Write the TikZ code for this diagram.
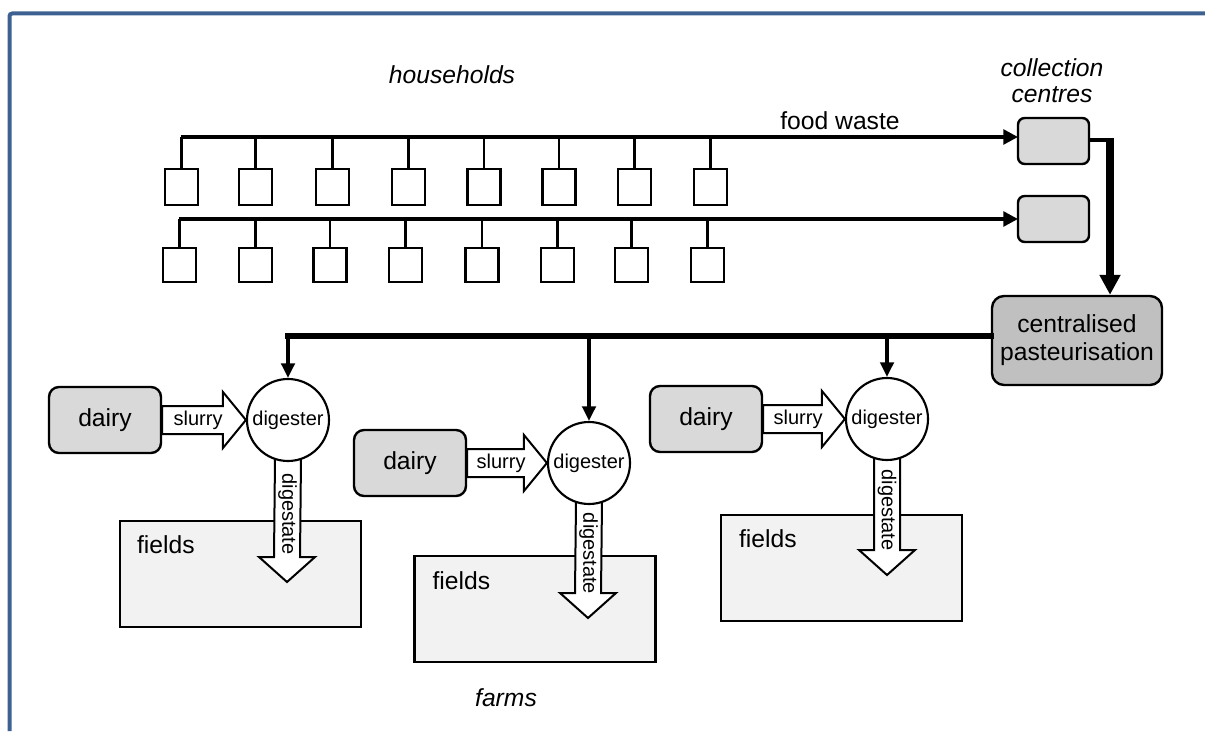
\documentclass[tikz,border=0pt]{standalone}
\usepackage{fontspec}
\setmainfont{Liberation Sans}
\usetikzlibrary{arrows.meta,calc}
\pgfdeclarelayer{under}
\pgfsetlayers{under,main}
\definecolor{frameblue}{HTML}{3D6190}
\definecolor{boxgray}{HTML}{D9D9D9}
\definecolor{pastgray}{HTML}{C0C0C0}
\definecolor{fieldgray}{HTML}{F2F2F2}
\newcommand\slurryarrow[2]{%
  \draw[blk] ($(#1.east)+(0,-14)$) -- ($(#2.west)+(-23,-14)$) -- ($(#2.west)+(-23,-28)$) -- (#2.west)
     -- ($(#2.west)+(-23,28)$) -- ($(#2.west)+(-23,14)$) -- ($(#1.east)+(0,14)$) -- cycle;
  \node[smalltxt] at ($(#1.east)!0.5!(#2.west)+(-6,0)$) {slurry};}
\newcommand\digestatearrow[2]{%
  \draw[blk] ($(#1.south)+(-13,-4)$) -- ($(#2)+(-13,-25)$) -- ($(#2)+(-28,-25)$) -- (#2)
     -- ($(#2)+(28,-25)$) -- ($(#2)+(13,-25)$) -- ($(#1.south)+(13,-4)$) -- cycle;
  \node[smalltxt,rotate=-90] at ($(#1.south)!0.5!(#2)+(0,-8)$) {digestate};}
\begin{document}
\begin{tikzpicture}[x=0.75pt,y=-0.75pt,
  bigtxt/.style={font=\fontsize{18.5}{21}\selectfont},
  smalltxt/.style={font=\fontsize{15}{17}\selectfont,inner sep=0pt},
  house/.style={draw,line width=2pt,minimum width=33*0.75pt,minimum height=#1*0.75pt,inner sep=0pt,outer sep=0pt},
  bus/.style={line width=2.6pt,-{Triangle[length=11pt,width=11pt]}},
  hdrop/.style={line width=2pt},
  ccbox/.style={draw,fill=boxgray,line width=1.8pt,rounded corners=5pt,minimum width=71*0.75pt,minimum height=46*0.75pt,outer sep=0pt},
  link/.style={line width=2.4pt},
  trunkline/.style={line width=6pt,-{Triangle[length=15pt,width=15pt]}},
  distline/.style={line width=4.5pt,line cap=rect},
  droparrow/.style={line width=3.2pt,-{Triangle[length=11pt,width=10pt]}},
  pastbox/.style={draw,fill=pastgray,line width=1.8pt,rounded corners=9pt,minimum width=170*0.75pt,minimum height=89*0.75pt,align=center,font=\fontsize{18.5}{21}\selectfont},
  dairybox/.style={draw,fill=boxgray,line width=1.8pt,rounded corners=7.5pt,minimum width=112*0.75pt,minimum height=66*0.75pt,bigtxt},
  digbox/.style={draw,fill=white,circle,line width=1.6pt,minimum size=82*0.75pt,inner sep=0pt,smalltxt},
  fieldbox/.style={draw,fill=fieldgray,line width=1.8pt,minimum width=241*0.75pt,minimum height=106*0.75pt,inner sep=0pt},
  blk/.style={draw,fill=white,line width=1.5pt,line join=miter},
  itlabel/.style={font=\fontsize{18.5}{19.5}\selectfont\itshape,align=center}
]
\useasboundingbox (0,0) rectangle (1205,731);
% frame
\draw[frameblue,line width=3pt,rounded corners=2pt] (9.5,731) -- (9.5,13.5) -- (1205,13.5);

% labels
\node[itlabel] (lblhouse) at (452,75) {households};
\node[itlabel] (lblcc) at (1052,81) {collection\\centres};
\node[bigtxt] (lblfw) at (840,121) {food waste};
\node[itlabel] (lblfarms) at (506,698) {farms};

% households
\foreach \x [count=\i] in {181.5,255.5,332.5,408.5,484,559,634.5,710.5}
  \node[house=36] (hA\i) at (\x,187) {};
\foreach \x [count=\i] in {179.5,255.5,330,405.5,482,557.5,631.5,707.5}
  \node[house=34] (hB\i) at (\x,265) {};

% collection centres
\node[ccbox] (cc1) at (1053.5,141) {};
\node[ccbox] (cc2) at (1053.5,219) {};

% buses
\coordinate (busA) at ($(hA1.north |- 0,137)+(-1,0)$);
\coordinate (busB) at ($(hB1.north |- 0,219)+(-1,0)$);
\draw[bus] (busA) -- (busA -| cc1.west);
\draw[bus] (busB) -- (busB -| cc2.west);
\foreach \i in {1,...,8}{
  \draw[hdrop] (hA\i.north) -- (hA\i.north |- busA);
  \draw[hdrop] (hB\i.north) -- (hB\i.north |- busB);
}

% pasteurisation
\node[pastbox] (past) at (1077,340.5) {centralised\\pasteurisation};
\coordinate (trunk) at (1110,140);
\draw[link] (cc1.east |- trunk) -- (trunk);
\draw[link] ($(cc2.east)+(0,-5)$) -- ($(cc2.east)+(0,-5)$ -| trunk);
\draw[trunkline] ($(trunk)+(0,-2)$) -- (trunk |- past.north);

% dairies
\node[dairybox] (dy1) at (105,420) {dairy};
\node[dairybox] (dy2) at (410,463) {dairy};
\node[dairybox] (dy3) at (706,419) {dairy};

% digesters
\node[digbox] (dg1) at (288,420) {digester};
\node[digbox] (dg2) at (589,463) {digester};
\node[digbox] (dg3) at (887,419) {digester};

\coordinate (t1) at (287,582);
\coordinate (t2) at (588,618);
\coordinate (t3) at (887,575);

\begin{pgfonlayer}{under}
% fields
\node[fieldbox] (f1) at (240.5,574) {};
\node[fieldbox] (f2) at (535,609) {};
\node[fieldbox] (f3) at (841.5,568) {};
\node[bigtxt,anchor=west,inner sep=0pt] (f1t) at ($(f1.north west)+(18,25)$) {fields};
\node[bigtxt,anchor=west,inner sep=0pt] (f2t) at ($(f2.north west)+(19,26)$) {fields};
\node[bigtxt,anchor=west,inner sep=0pt] (f3t) at ($(f3.north west)+(19,25)$) {fields};
% block arrows
\slurryarrow{dy1}{dg1}
\slurryarrow{dy2}{dg2}
\slurryarrow{dy3}{dg3}
\digestatearrow{dg1}{t1}
\digestatearrow{dg2}{t2}
\digestatearrow{dg3}{t3}
\end{pgfonlayer}

% distribution
\coordinate (dist) at (288,336);
\draw[distline] (past.west |- dist) -- (dist);
\draw[droparrow] (dist) -- (dg1.north);
\draw[droparrow] (dist -| dg2.north) -- (dg2.north);
\draw[droparrow] (dist -| dg3.north) -- (dg3.north);
\end{tikzpicture}
\end{document}
